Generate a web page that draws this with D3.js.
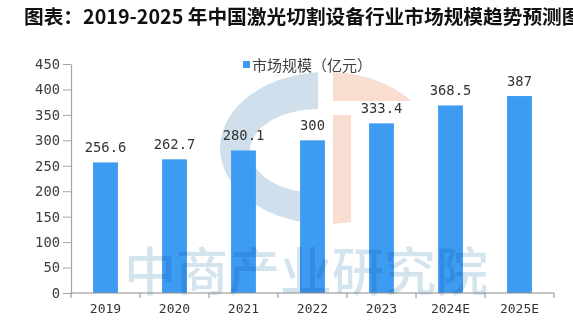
<!DOCTYPE html>
<html>
<head>
<meta charset="utf-8">
<script src="https://cdn.jsdelivr.net/npm/d3@7"></script>
<style>
  html, body { margin: 0; padding: 0; background: #ffffff; }
  svg { display: block; }
</style>
</head>
<body>
<svg id="chart" width="573" height="336"></svg>
<script>
const title = "图表：2019-2025 年中国激光切割设备行业市场规模趋势预测图";
const seriesName = "市场规模（亿元）";
const categories = ["2019", "2020", "2021", "2022", "2023", "2024E", "2025E"];
const values = [256.6, 262.7, 280.1, 300, 333.4, 368.5, 387];
const valueLabels = ["256.6", "262.7", "280.1", "300", "333.4", "368.5", "387"];
const yTicks = [0, 50, 100, 150, 200, 250, 300, 350, 400, 450];
const watermarkText = "中商产业研究院";

const svg = d3.select("#chart");
const W = 573, H = 336;
const plot = { left: 71, right: 554, top: 64, bottom: 293 };
const barColor = "#3d9cf2";
const monoFont = "'DejaVu Sans Mono', 'Liberation Mono', monospace";

svg.append("rect").attr("width", W).attr("height", H).attr("fill", "#fff");

// Title
svg.append("text")
  .attr("x", 24).attr("y", 24)
  .attr("font-family", "'Noto Sans CJK SC', sans-serif")
  .attr("font-weight", 700)
  .attr("font-size", 19.7)
  .attr("fill", "#111")
  .text(title);

const x = d3.scaleBand().domain(categories)
  .range([plot.left, plot.right])
  .paddingInner(0.64).paddingOuter(0.32);
const y = d3.scaleLinear().domain([0, 450]).range([plot.bottom, plot.top]);

// Watermark logo (decorative)
const defs = svg.append("defs");
const cx = 327, cy = 148, rx = 107, ry = 76;
const hx = 318, hy = 151, hrx = 68, hry = 42;
function ellipsePath(cx, cy, rx, ry) {
  return `M${cx - rx},${cy} a${rx},${ry} 0 1,0 ${2 * rx},0 a${rx},${ry} 0 1,0 ${-2 * rx},0 Z`;
}
const ringD = ellipsePath(cx, cy, rx, ry) + ellipsePath(hx, hy, hrx, hry);
defs.append("clipPath").attr("id", "leftHalf").append("rect")
  .attr("x", 0).attr("y", 0).attr("width", 318).attr("height", H);
defs.append("clipPath").attr("id", "topRight").append("rect")
  .attr("x", 333).attr("y", 0).attr("width", 200).attr("height", 101);
defs.append("clipPath").attr("id", "ell").append("ellipse")
  .attr("cx", cx).attr("cy", cy).attr("rx", rx).attr("ry", ry);

const wm = svg.append("g").attr("pointer-events", "none");
wm.append("path").attr("d", ringD).attr("fill-rule", "evenodd")
  .attr("clip-path", "url(#leftHalf)").attr("fill", "#cfe0ec");
wm.append("path").attr("d", ringD).attr("fill-rule", "evenodd")
  .attr("clip-path", "url(#topRight)").attr("fill", "#f8ddd0");
wm.append("rect").attr("x", 333).attr("y", 115).attr("width", 18).attr("height", 120)
  .attr("clip-path", "url(#ell)").attr("fill", "#f8ddd0");

// Y axis
const yAxis = d3.axisLeft(y).tickValues(yTicks).tickSize(8).tickPadding(3).tickSizeOuter(0);
const gy = svg.append("g").attr("transform", `translate(${plot.left},0)`).call(yAxis);
gy.select(".domain").attr("stroke", "#a6a6a6").attr("stroke-width", 1.2);
gy.selectAll(".tick line").attr("stroke", "#a6a6a6");
gy.selectAll(".tick text")
  .attr("font-family", monoFont).attr("font-size", 13.8)
  .attr("fill", "#404040");

// Bars
svg.append("g").selectAll("rect").data(values).join("rect")
  .attr("x", (d, i) => x(categories[i]))
  .attr("y", d => y(d))
  .attr("width", x.bandwidth())
  .attr("height", d => y(0) - y(d))
  .attr("fill", barColor);

// Value labels
svg.append("g").selectAll("text").data(values).join("text")
  .attr("x", (d, i) => x(categories[i]) + x.bandwidth() / 2)
  .attr("y", d => y(d) - 10)
  .attr("text-anchor", "middle")
  .attr("font-family", monoFont).attr("font-size", 13.8)
  .attr("fill", "#333")
  .text((d, i) => valueLabels[i]);

// Watermark text
svg.append("text")
  .style("mix-blend-mode", "multiply")
  .attr("x", 306).attr("y", 291)
  .attr("text-anchor", "middle")
  .attr("font-family", "'Noto Sans CJK SC', sans-serif")
  .attr("font-weight", 500)
  .attr("font-size", 52)
  .attr("fill", "#d3e4ef")
  .text(watermarkText);

// X axis
const boundaries = d3.range(categories.length + 1).map(i => plot.left + i * x.step());
const gx = svg.append("g");
gx.append("line")
  .attr("x1", plot.left).attr("x2", plot.right)
  .attr("y1", plot.bottom).attr("y2", plot.bottom)
  .attr("stroke", "#8c8c8c").attr("stroke-width", 1.2);
gx.selectAll("line.t").data(boundaries).join("line").attr("class", "t")
  .attr("x1", d => d).attr("x2", d => d)
  .attr("y1", plot.bottom).attr("y2", plot.bottom + 5)
  .attr("stroke", "#8c8c8c");
gx.selectAll("text").data(categories).join("text")
  .attr("x", d => x(d) + x.bandwidth() / 2)
  .attr("y", plot.bottom + 20)
  .attr("text-anchor", "middle")
  .attr("font-family", monoFont).attr("font-size", 13)
  .attr("fill", "#333")
  .text(d => d);

// Legend
const lg = svg.append("g");
lg.append("rect").attr("x", 243).attr("y", 61).attr("width", 7).attr("height", 7).attr("fill", barColor);
lg.append("text").attr("x", 252).attr("y", 70.5)
  .attr("font-family", "'Noto Sans CJK SC', sans-serif")
  .attr("font-size", 15).attr("fill", "#404040")
  .text(seriesName);
</script>
</body>
</html>
